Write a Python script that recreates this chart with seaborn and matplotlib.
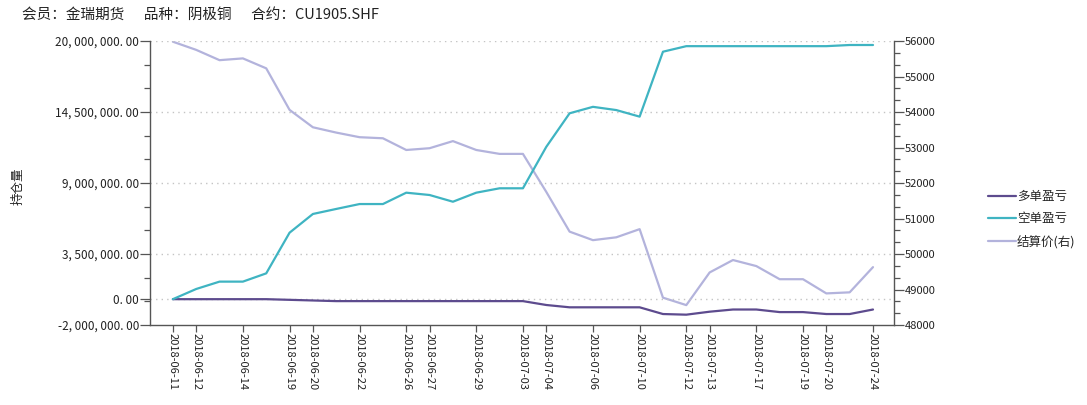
import numpy as np
import pandas as pd
import matplotlib
matplotlib.use("Agg")
import matplotlib.pyplot as plt
import matplotlib.ticker as mticker
import seaborn as sns

# trading days shown on the chart
dates = ["2018-06-11", "2018-06-12", "2018-06-13", "2018-06-14", "2018-06-15",
         "2018-06-19", "2018-06-20", "2018-06-21", "2018-06-22", "2018-06-25",
         "2018-06-26", "2018-06-27", "2018-06-28", "2018-06-29", "2018-07-02",
         "2018-07-03", "2018-07-04", "2018-07-05", "2018-07-06", "2018-07-09",
         "2018-07-10", "2018-07-11", "2018-07-12", "2018-07-13", "2018-07-16",
         "2018-07-17", "2018-07-18", "2018-07-19", "2018-07-20", "2018-07-23",
         "2018-07-24"]
shown_labels = ["2018-06-11", "2018-06-12", "2018-06-14", "2018-06-19", "2018-06-20",
                "2018-06-22", "2018-06-26", "2018-06-27", "2018-06-29", "2018-07-03",
                "2018-07-04", "2018-07-06", "2018-07-10", "2018-07-12", "2018-07-13",
                "2018-07-17", "2018-07-19", "2018-07-20", "2018-07-24"]

# 多单盈亏 (long PnL)
long_pnl = [0, 0, 0, 0, 0, -50000, -100000, -150000, -150000, -150000,
            -150000, -150000, -150000, -150000, -150000, -150000, -450000, -630000,
            -630000, -630000, -630000, -1150000, -1200000, -970000, -800000,
            -800000, -1000000, -1000000, -1150000, -1150000, -800000]
# 空单盈亏 (short PnL)
short_pnl = [0, 790000, 1360000, 1360000, 2000000, 5150000, 6600000, 6990000,
             7370000, 7370000, 8250000, 8070000, 7550000, 8250000, 8590000,
             8590000, 11800000, 14400000, 14900000, 14650000, 14140000,
             19170000, 19600000, 19600000, 19600000, 19600000, 19600000,
             19600000, 19600000, 19690000, 19690000]
# 结算价 (settlement price, right axis)
settle = [55980, 55750, 55460, 55510, 55230, 54060, 53570, 53420, 53290, 53260,
          52930, 52980, 53180, 52930, 52820, 52820, 51750, 50630, 50390, 50470,
          50700, 48770, 48560, 49480, 49830, 49660, 49290, 49290, 48890, 48920,
          49630]

df = pd.DataFrame({"idx": np.arange(len(dates)), "date": dates,
                   "long": long_pnl, "short": short_pnl, "settle": settle})

sns.set_style("white")
plt.rcParams["font.family"] = ["Noto Sans CJK SC", "DejaVu Sans"]
plt.rcParams["axes.unicode_minus"] = False

fig = plt.figure(figsize=(10.87, 4.05), dpi=100)
ax = fig.add_axes([150 / 1087, 1 - 325 / 405, (894 - 150) / 1087, (325 - 41) / 405])
ax2 = ax.twinx()

c_long = "#5d4b8e"
c_short = "#3fb4c2"
c_settle = "#b3b3dc"

sns.lineplot(data=df, x="idx", y="settle", ax=ax2, color=c_settle, linewidth=1.6,
             label="结算价(右)", legend=False)
sns.lineplot(data=df, x="idx", y="long", ax=ax, color=c_long, linewidth=1.6,
             label="多单盈亏", legend=False)
sns.lineplot(data=df, x="idx", y="short", ax=ax, color=c_short, linewidth=1.6,
             label="空单盈亏", legend=False)

ax.set_zorder(ax2.get_zorder() + 1)
ax.patch.set_visible(False)

# left axis
step = 5500000
ax.set_ylim(-2000000, 20000000)
ax.set_yticks([-2000000, 0, 3500000, 9000000, 14500000, 20000000])
ax.yaxis.set_major_formatter(mticker.FuncFormatter(lambda v, p: f"{v:,.2f}".replace(",", ", ").replace(".", ". ")))
ax.set_yticks([20000000 - k * step / 3 for k in range(13) if 20000000 - k * step / 3 > -2000000],
              minor=True)
for v in [0, 3500000, 9000000, 14500000, 20000000]:
    ax.axhline(v, color="#c4c4c4", linestyle=(0, (1, 3)), linewidth=1.0, zorder=0)

# right axis
ax2.set_ylim(48000, 56000)
ax2.set_yticks(np.arange(48000, 56001, 1000))
ax2.set_yticks(np.arange(48000, 56001, 1000 / 3), minor=True)

# x axis
ax.set_xlim(-0.98, 30.9)
pos = [dates.index(d) for d in shown_labels]
ax.set_xticks(pos)
ax.set_xticklabels(shown_labels, rotation=-90, fontsize=8, color="#222222")
ax.set_xlabel("")
ax.set_ylabel("持仓量", fontsize=9, color="#222222")
ax.yaxis.set_label_coords(-0.168, 0.49)
ax2.set_ylabel("")

for a in (ax, ax2):
    for s in a.spines.values():
        s.set_visible(False)
ax.spines["left"].set_visible(True)
ax.spines["bottom"].set_visible(True)
ax2.spines["right"].set_visible(True)
for s in [ax.spines["left"], ax.spines["bottom"], ax2.spines["right"]]:
    s.set_color("#555555")
    s.set_linewidth(1.0)

ax.tick_params(axis="y", which="major", direction="out", length=7, width=0.9,
               color="#555555", labelsize=8.5, labelcolor="#222222", left=True, pad=1)
ax.tick_params(axis="y", which="minor", direction="out", length=4, width=0.9,
               color="#555555", left=True)
ax.tick_params(axis="x", which="major", direction="out", length=5, width=0.9,
               color="#555555", bottom=True, pad=1)
ax2.tick_params(axis="y", which="major", direction="out", length=7, width=0.9,
                color="#555555", labelsize=8, labelcolor="#222222", right=True, pad=1)
ax2.tick_params(axis="y", which="minor", direction="out", length=4, width=0.9,
                color="#555555", right=True)

# legend
h1, l1 = ax.get_legend_handles_labels()
h2, l2 = ax2.get_legend_handles_labels()
fig.legend(h1 + h2, l1 + l2, loc="center left", bbox_to_anchor=(983 / 1087, 1 - 219 / 405),
           frameon=False, fontsize=9, handlelength=2.2, handletextpad=0.1,
           labelspacing=0.75, borderaxespad=0)

fig.text(22 / 1087, 1 - 15 / 405, "会员：金瑞期货      品种：阴极铜      合约：CU1905.SHF",
         fontsize=10.5, color="#222222", va="center", ha="left")

fig.savefig("out.png", dpi=100, facecolor="white")
